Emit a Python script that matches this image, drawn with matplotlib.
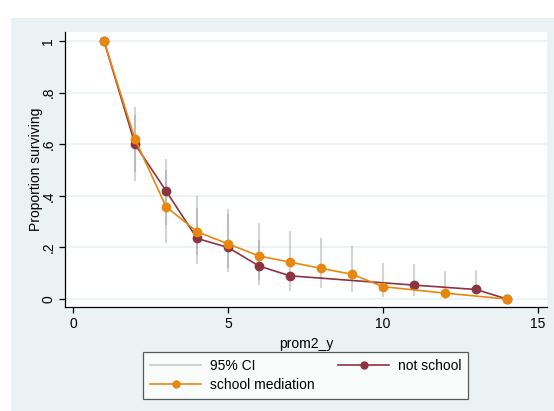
import numpy as np
import matplotlib.pyplot as plt
from matplotlib.patches import Rectangle

plt.rcParams['font.family'] = ['Liberation Sans', 'DejaVu Sans']

# survival curves
x_not = [1, 2, 3, 4, 5, 6, 7, 11, 13, 14]
y_not = [1.0, 0.60, 0.419, 0.235, 0.200, 0.128, 0.090, 0.054, 0.037, 0.0]

x_sch = [1, 2, 3, 4, 5, 6, 7, 8, 9, 10, 12, 14]
y_sch = [1.0, 0.619, 0.358, 0.261, 0.214, 0.167, 0.143, 0.119, 0.096, 0.048, 0.023, 0.0]

# 95% CIs (two sets, they overlap at the first steps)
ci1_x = [2, 3, 4, 5, 6]
ci1_lo = [0.493, 0.287, 0.170, 0.120, 0.074]
ci1_hi = [0.745, 0.543, 0.399, 0.348, 0.293]

ci2_x = [2, 3, 4, 5, 6, 7, 8, 9, 10, 11, 12, 13]
ci2_lo = [0.457, 0.218, 0.134, 0.106, 0.054, 0.032, 0.044, 0.028, 0.009, 0.013, 0.0, 0.028]
ci2_hi = [0.713, 0.500, 0.353, 0.330, 0.229, 0.265, 0.235, 0.205, 0.141, 0.136, 0.107, 0.111]

yticks = [0, 0.2, 0.4, 0.6, 0.8, 1]
ylabels = ['0', '.2', '.4', '.6', '.8', '1']
xticks = [0, 5, 10, 15]

c_not = '#8E3340'
c_sch = '#E8870E'
c_ci = '#a0a0a0'
bg = '#EAF2F3'

fig = plt.figure(figsize=(5.54, 4.11), dpi=100)
fig.patches.append(Rectangle((11 / 554, 0), 1, 1 - 18 / 411, transform=fig.transFigure,
                             facecolor=bg, edgecolor='none', zorder=-10))

ax = fig.add_axes([65 / 554, 1 - 307.3 / 411, (547 - 65) / 554, (307.3 - 32.3) / 411])
ax.set_facecolor('white')

ax.vlines(ci1_x, ci1_lo, ci1_hi, color=c_ci, alpha=0.45, lw=1.5, zorder=2)
ax.vlines(ci2_x, ci2_lo, ci2_hi, color=c_ci, alpha=0.45, lw=1.5, zorder=2)

ax.plot(x_not, y_not, color=c_not, lw=1.2, marker='o', ms=6, zorder=3)
ax.plot(x_sch, y_sch, color=c_sch, lw=1.2, marker='o', ms=6, zorder=4)

ax.set_xlim(-0.26, 15.29)
ax.set_ylim(-0.032, 1.034)

ax.set_yticks(yticks)
ax.set_yticklabels(ylabels, rotation=90, va='center')
ax.set_xticks(xticks)
ax.grid(axis='y', color=bg, lw=1.2)
ax.set_axisbelow(True)

for s in ['top', 'right']:
    ax.spines[s].set_visible(False)
for s in ['left', 'bottom']:
    ax.spines[s].set_color('black')
    ax.spines[s].set_linewidth(0.9)
ax.tick_params(direction='out', length=4, width=0.9, labelsize=10, pad=3)

ax.set_xlabel('prom2_y', fontsize=10, labelpad=4)
ax.set_ylabel('Proportion surviving', fontsize=10, labelpad=-1)

h_ci, = ax.plot([], [], color=c_ci, alpha=0.45, lw=1.5)
h_not, = ax.plot([], [], color=c_not, lw=1.2, marker='o', ms=5)
h_sch, = ax.plot([], [], color=c_sch, lw=1.2, marker='o', ms=5)
leg = fig.legend([h_ci, h_sch, h_not], ['95% CI', 'school mediation', 'not school'],
                 ncol=2, loc='center', bbox_to_anchor=(305.5 / 554, 1 - 375.5 / 411),
                 fontsize=10, frameon=True, fancybox=False, handlelength=3.7,
                 columnspacing=1.7, labelspacing=0.35, borderpad=0.5, handletextpad=0.6,
                 borderaxespad=0)
leg.get_frame().set_edgecolor('#333333')
leg.get_frame().set_linewidth(0.9)

fig.savefig('out.png', dpi=100)
